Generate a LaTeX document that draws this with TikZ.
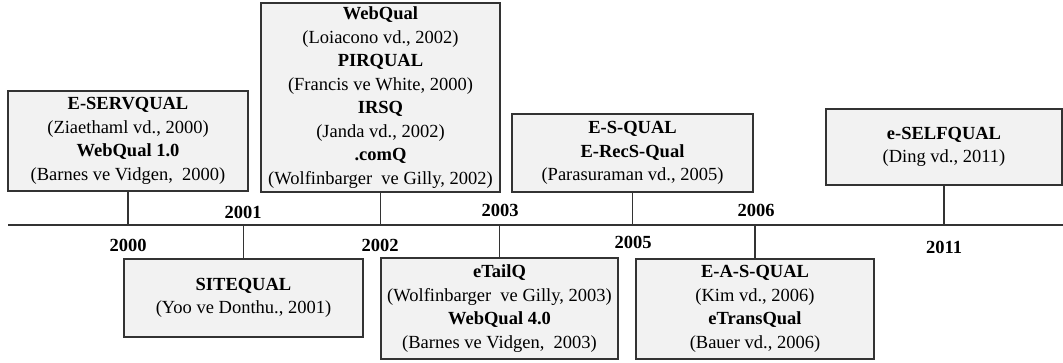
\documentclass[tikz,border=0pt]{standalone}
\usepackage{fontspec}
\setmainfont{Liberation Serif}
\definecolor{boxfill}{HTML}{F2F2F2}
\definecolor{boxline}{HTML}{333333}
\begin{document}
\begin{tikzpicture}[x=1pt,y=1pt,
    model/.style={draw=boxline,fill=boxfill,line width=1.4pt,align=center,inner sep=0pt,
      font=\fontsize{18.5}{23.5}\selectfont},
    year/.style={font=\fontsize{18.5}{20}\selectfont\bfseries},
    stem/.style={draw=boxline,line width=1.4pt}]
    \useasboundingbox (0,0) rectangle (1063,363);
    \coordinate (tl) at (8,138);
    \coordinate (tr) at (1063,138);
    \draw[stem] (tl) -- (tr);
    \node[model,minimum width=240,minimum height=100] (serv) at (128,222)
      {\textbf{E-SERVQUAL}\\(Ziaethaml vd., 2000)\\\textbf{WebQual 1.0}\\(Barnes ve Vidgen,\ \ 2000)};
    \node[model,minimum width=239,minimum height=78] (site) at (243.5,65)
      {\textbf{SITEQUAL}\\(Yoo ve Donthu., 2001)};
    \node[model,minimum width=239,minimum height=189] (webq) at (380.5,265.5)
      {\textbf{WebQual}\\(Loiacono vd., 2002)\\\textbf{PIRQUAL}\\(Francis ve White, 2000)\\\textbf{IRSQ}\\(Janda vd., 2002)\\\textbf{.comQ}\\(Wolfinbarger\ \ ve Gilly, 2002)};
    \node[model,minimum width=237,minimum height=101] (etail) at (499.5,54.5)
      {\textbf{eTailQ}\\(Wolfinbarger\ \ ve Gilly, 2003)\\\textbf{WebQual 4.0}\\(Barnes ve Vidgen,\ \ 2003)};
    \node[model,minimum width=241,minimum height=78] (esq) at (632.5,210)
      {\textbf{E-S-QUAL}\\\textbf{E-RecS-Qual}\\(Parasuraman vd., 2005)};
    \node[model,minimum width=238,minimum height=100] (easq) at (755,54)
      {\textbf{E-A-S-QUAL}\\(Kim vd., 2006)\\\textbf{eTransQual}\\(Bauer vd., 2006)};
    \node[model,minimum width=236,minimum height=76] (self) at (944,216)
      {\textbf{e-SELFQUAL}\\(Ding vd., 2011)};
    \draw[stem] (serv.south) -- (serv.south |- tl);
    \draw[stem] (site.north) -- (site.north |- tl);
    \draw[stem] (webq.south) -- (webq.south |- tl);
    \draw[stem] (etail.north) -- (etail.north |- tl);
    \draw[stem] (esq.south) -- (esq.south |- tl);
    \draw[stem] (easq.north) -- (easq.north |- tl);
    \draw[stem] (self.south) -- (self.south |- tl);
    \node[year] (y2000) at (128,118) {2000};
    \node[year] (y2001) at (243,151) {2001};
    \node[year] (y2002) at (380,118) {2002};
    \node[year] (y2003) at (500,153) {2003};
    \node[year] (y2005) at (633,121) {2005};
    \node[year] (y2006) at (756,153) {2006};
    \node[year] (y2011) at (944,116) {2011};
\end{tikzpicture}
\end{document}
